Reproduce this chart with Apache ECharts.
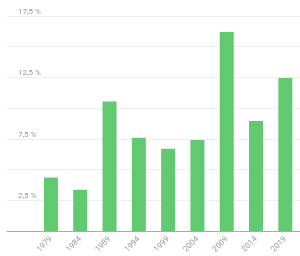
<!DOCTYPE html>
<html><head><meta charset="utf-8">
<script src="https://cdn.jsdelivr.net/npm/echarts@6/dist/echarts.min.js"></script>
<style>html,body{margin:0;padding:0;background:#fff}#c{width:300px;height:256px}</style>
</head><body><div id="c"></div>
<script>
const categories = ['', '1979', '1984', '1989', '1994', '1999', '2004', '2009', '2014', '2019'];
const values = [null, 4.35, 3.35, 10.55, 7.6, 6.7, 7.4, 16.2, 8.95, 12.45];
const yTicksLabeled = [2.5, 7.5, 12.5, 17.5];

const chart = echarts.init(document.getElementById('c'), null, {renderer: 'canvas'});
chart.setOption({
  animation: false,
  grid: {left: 7, right: 0, top: 16, bottom: 25, containLabel: false},
  xAxis: {
    type: 'category',
    data: categories,
    axisLine: {lineStyle: {color: '#aaaaaa', width: 1}},
    axisTick: {show: false},
    axisLabel: {rotate: 45, color: '#999999', fontSize: 8, fontFamily: 'Roboto', margin: 7, interval: 0}
  },
  yAxis: {
    type: 'value',
    min: 0, max: 17.5, interval: 2.5,
    axisLine: {show: false},
    axisTick: {show: false},
    splitLine: {lineStyle: {color: '#eeeeee', width: 1}},
    axisLabel: {
      inside: true,
      color: '#999999', fontSize: 8, fontFamily: 'Roboto',
      verticalAlign: 'bottom', padding: [0, 0, 0, 3],
      formatter: v => yTicksLabeled.includes(v) ? String(v).replace('.', ',') + ' %' : ''
    }
  },
  series: [{
    type: 'bar',
    data: values,
    barWidth: 14,
    itemStyle: {color: '#61c96f'}
  }]
});
</script></body></html>
